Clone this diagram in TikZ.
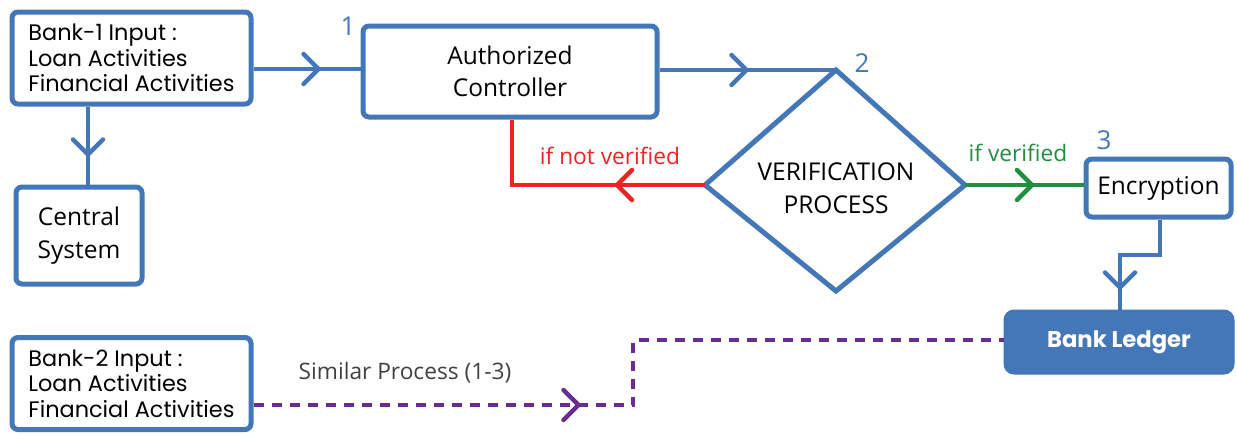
\documentclass[tikz,border=0pt]{standalone}
\usepackage{fontspec}
\setmainfont{Open Sans}
\newfontfamily\pop{Poppins}
\usetikzlibrary{decorations.markings}
\definecolor{cblue}{RGB}{67,119,184}
\definecolor{cred}{RGB}{237,34,36}
\definecolor{cgreen}{RGB}{31,142,63}
\definecolor{cpurple}{RGB}{106,44,145}
\definecolor{cgray}{RGB}{64,64,64}
\tikzset{
  box/.style={draw=cblue, line width=5pt, rounded corners=6pt, fill=white, inner sep=0pt},
  inbox/.style={box, align=left, font=\pop\fontsize{22.4}{25.5}\selectfont},
  lbl/.style={font=\fontsize{24.5}{32.5}\selectfont, align=center},
  num/.style={text=cblue, font=\fontsize{26}{26}\selectfont},
  side/.style={font=\fontsize{22.7}{22.7}\selectfont},
  wire/.style={line width=4.5pt},
  chev/.style={postaction={decorate, decoration={markings,
      mark=at position #1 with {\draw[solid, line cap=round, line join=miter]
        (-15pt,15pt) -- (0pt,0pt) -- (-15pt,-15pt);}}}}
}
\begin{document}
\begin{tikzpicture}[x=1pt, y=-1pt]
\useasboundingbox (0,0) rectangle (1237,434);

% input and control boxes
\node[inbox, minimum width=239pt, minimum height=92pt] (bank1) at (131.5,58)
  {Bank-1 Input :\\Loan Activities\\Financial Activities};
\node[inbox, minimum width=239pt, minimum height=92pt] (bank2) at (131.5,383.5)
  {Bank-2 Input :\\Loan Activities\\Financial Activities};
\node[box, lbl, minimum width=126pt, minimum height=97pt] (central) at (79,235.5)
  {Central\\System};
\node[box, lbl, minimum width=294pt, minimum height=91pt] (auth) at (510,71.5)
  {Authorized\\Controller};
\node[box, lbl, minimum width=145pt, minimum height=58pt] (enc) at (1158.5,188)
  {Encryption};
\node[draw=cblue, fill=cblue, line width=1pt, rounded corners=10pt,
  minimum width=230pt, minimum height=64pt, text=white,
  font=\pop\bfseries\fontsize{22.7}{24}\selectfont] (ledger) at (1119,342) {Bank Ledger};

% decision diamond
\coordinate (dT) at (836,70);
\coordinate (dL) at (705,185);
\coordinate (dR) at (965,185);
\coordinate (dB) at (836,291);
\draw[cblue, line width=5pt, line join=miter] (dT) -- (dR) -- (dB) -- (dL) -- cycle;
\node[lbl] (verif) at (836,188) {VERIFICATION\\PROCESS};

% step numbers
\node[num] (n1) at (348,26) {1};
\node[num] (n2) at (862,63) {2};
\node[num] (n3) at (1104,140) {3};

% connectors
\draw[cblue, wire, chev=65pt] (bank1.east |- 0,69) -- (auth.west |- 0,69);
\draw[cblue, wire, chev=48pt] (bank1.south -| 88,0) -- (central.north -| 88,0);
\draw[cblue, wire, chev=87pt] (auth.east |- dT) -- (dT);
\draw[cred, wire, chev=88pt] (dL) -- (512,185) -- (auth.south -| 512,0);
\draw[cgreen, wire, chev=67pt] (dR) -- (enc.west |- dR);
\draw[cblue, wire, chev=108pt] (enc.south -| 1160,0) -- (1160,255) -- (1120,255) -- (ledger.north -| 1120,0);
\draw[cpurple, wire, dash pattern=on 10pt off 8pt, chev=325pt]
  (bank2.east |- 0,405) -- (633,405) -- (633,340) -- (ledger.west |- 0,340);

% connector labels
\node[side, text=cred] (nv) at (610,156) {if not verified};
\node[side, text=cgreen] (yv) at (1018,153) {if verified};
\node[side, text=cgray] (sim) at (405,373) {Similar Process (1-3)};
\end{tikzpicture}
\end{document}
